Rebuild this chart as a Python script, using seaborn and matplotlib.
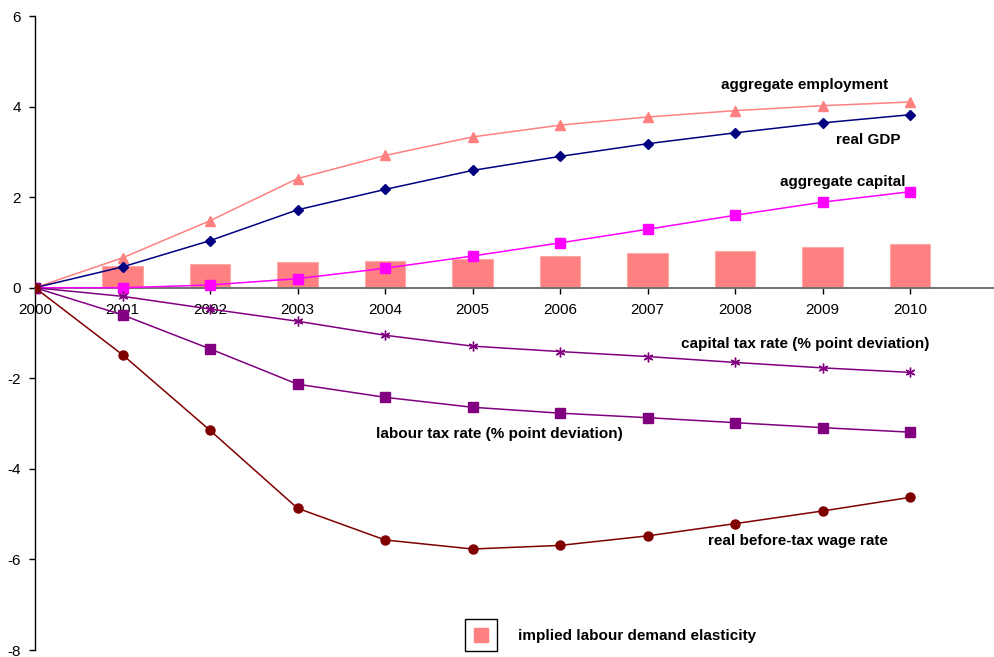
import matplotlib
matplotlib.use("Agg")
import matplotlib.pyplot as plt
from matplotlib.lines import Line2D
from matplotlib.legend_handler import HandlerTuple
import seaborn as sns
import pandas as pd

years = [2000, 2001, 2002, 2003, 2004, 2005, 2006, 2007, 2008, 2009, 2010]
bar_years = [2001, 2002, 2003, 2004, 2005, 2006, 2007, 2008, 2009, 2010]
elasticity = [0.48, 0.52, 0.56, 0.59, 0.64, 0.70, 0.76, 0.82, 0.89, 0.96]
employment = [0.0, 0.66, 1.48, 2.41, 2.92, 3.33, 3.59, 3.77, 3.91, 4.02, 4.10]
real_gdp = [0.0, 0.46, 1.04, 1.72, 2.17, 2.59, 2.90, 3.18, 3.42, 3.64, 3.82]
capital = [0.0, 0.0, 0.06, 0.20, 0.43, 0.70, 0.99, 1.29, 1.60, 1.89, 2.12]
capital_tax = [0.0, -0.19, -0.47, -0.74, -1.05, -1.29, -1.41, -1.52, -1.65, -1.77, -1.87]
labour_tax = [0.0, -0.60, -1.35, -2.13, -2.42, -2.64, -2.77, -2.87, -2.98, -3.09, -3.19]
wage = [0.0, -1.48, -3.15, -4.87, -5.57, -5.77, -5.69, -5.48, -5.21, -4.93, -4.63]

sns.set_style("white")
plt.rcParams["font.family"] = ["Liberation Sans", "DejaVu Sans"]
plt.rcParams["axes.unicode_minus"] = False
plt.rcParams["text.color"] = "black"
plt.rcParams["xtick.color"] = "black"
plt.rcParams["ytick.color"] = "black"

fig = plt.figure(figsize=(9.95, 6.57), dpi=100)
ax = fig.add_axes([35 / 995, 7 / 657, 1 - 35 / 995, (650 - 16) / 657])

df_bar = pd.DataFrame({"year": bar_years, "elasticity": elasticity})
sns.barplot(data=df_bar, x="year", y="elasticity", native_scale=True, width=0.46,
            color="#FF8080", saturation=1, ax=ax, zorder=1, edgecolor="#FFA8A8", linewidth=0.8)

series = [
    (employment, "#FF8080", "^", 7.5),
    (real_gdp, "#000080", "D", 5.5),
    (capital, "#FF00FF", "s", 6.5),
    (capital_tax, "#800080", (6, 2, 0), 7),
    (labour_tax, "#800080", "s", 6.5),
    (wage, "#800000", "o", 6.5),
]
for vals, col, mk, ms in series:
    sns.lineplot(x=years, y=vals, color=col, marker=mk, markersize=ms,
                 markeredgecolor=col, markerfacecolor=col, markeredgewidth=1.0,
                 linewidth=1.1, ax=ax, zorder=3)

ax.set_xlim(2000, 2010.97)
ax.set_ylim(-8, 6)
ax.set_xticks(years)
ax.set_xticklabels([str(y) for y in years])
ax.set_yticks([6, 4, 2, 0, -2, -4, -6, -8])
ax.set_xlabel("")
ax.set_ylabel("")

for s in ["top", "right"]:
    ax.spines[s].set_visible(False)
ax.spines["bottom"].set_position(("data", 0))
ax.spines["bottom"].set_color("#707070")
ax.spines["bottom"].set_linewidth(1.4)
ax.spines["left"].set_color("black")
ax.spines["left"].set_linewidth(1.0)
ax.spines["bottom"].set_zorder(2)

ax.tick_params(axis="x", direction="out", length=4, width=1, color="black",
               labelsize=11, pad=7, bottom=True, labelcolor="black")
ax.tick_params(axis="y", direction="out", length=4, width=1, color="black",
               labelsize=11, pad=6, left=True, labelcolor="black")

lab = dict(fontsize=11, fontweight="bold", ha="center", va="center", color="black")
ax.text(2008.79, 4.48, "aggregate employment", **lab)
ax.text(2009.52, 3.26, "real GDP", **lab)
ax.text(2009.23, 2.34, "aggregate capital", **lab)
ax.text(2008.80, -1.24, "capital tax rate (% point deviation)", **lab)
ax.text(2005.31, -3.23, "labour tax rate (% point deviation)", **lab)
ax.text(2008.72, -5.59, "real before-tax wage rate", **lab)

box = Line2D([], [], linestyle="none", marker="s", markersize=23.5,
             markerfacecolor="white", markeredgecolor="black", markeredgewidth=1.0)
swatch = Line2D([], [], linestyle="none", marker="s", markersize=10,
                markerfacecolor="#FF8080", markeredgecolor="#FF8080")
fig.legend(handles=[(box, swatch)], labels=["implied labour demand elasticity"],
           handler_map={tuple: HandlerTuple(ndivide=1, pad=0)},
           loc="center left", bbox_to_anchor=(469 / 995, 1 - 636 / 657),
           frameon=False, borderpad=0, borderaxespad=0, handlelength=1.6,
           handletextpad=1.6, prop={"weight": "bold", "size": 11}, labelcolor="black")

fig.savefig("out.png", dpi=100)
